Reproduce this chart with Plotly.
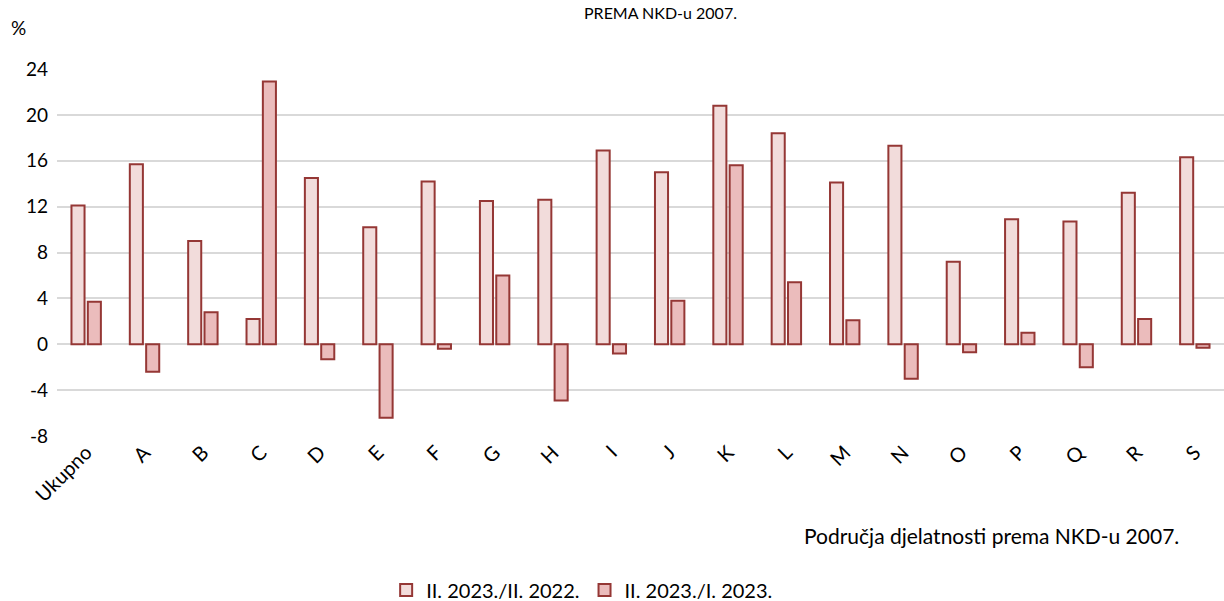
import plotly.graph_objects as go

categories = ["Ukupno", "A", "B", "C", "D", "E", "F", "G", "H", "I", "J",
              "K", "L", "M", "N", "O", "P", "Q", "R", "S"]
series1_name = "II. 2023./II. 2022."
series1 = [12.1, 15.7, 9.0, 2.2, 14.5, 10.2, 14.2, 12.5, 12.6, 16.9, 15.0,
           20.8, 18.4, 14.1, 17.3, 7.2, 10.9, 10.7, 13.2, 16.3]
series2_name = "II. 2023./I. 2023."
series2 = [3.7, -2.4, 2.8, 22.9, -1.3, -6.4, -0.4, 6.0, -4.9, -0.8, 3.8,
           15.6, 5.4, 2.1, -3.0, -0.7, 1.0, -2.0, 2.2, -0.3]
y_ticks = [-8, -4, 0, 4, 8, 12, 16, 20, 24]
y_tick_labels = ["-8", "-4", "0", "4", "8", "12", "16", "20", "24"]

FONT = "Lato"
edge = "#953735"

fig = go.Figure()
fig.add_trace(go.Bar(x=categories, y=series1, name=series1_name,
                     marker=dict(color="#F2DCDB", line=dict(color=edge, width=2))))
fig.add_trace(go.Bar(x=categories, y=series2, name=series2_name,
                     marker=dict(color="#EBBCBC", line=dict(color=edge, width=2))))

fig.update_layout(
    width=1224, height=601,
    margin=dict(l=57, r=0, t=69, b=165, autoexpand=False),
    paper_bgcolor="white", plot_bgcolor="white",
    barmode="group", bargap=0.44, bargroupgap=0.2,
    font=dict(family=FONT, size=20, color="#000000"),
    showlegend=True,
    legend=dict(orientation="h", x=0.45, xanchor="center", y=-0.4196, yanchor="middle",
                font=dict(family=FONT, size=20), itemwidth=30,
                traceorder="normal"),
    xaxis=dict(tickangle=-45, showgrid=False, showline=False, ticks="",
               tickfont=dict(family=FONT, size=20)),
    yaxis=dict(range=[-8, 24], tickvals=y_ticks, ticktext=y_tick_labels,
               showgrid=True, gridcolor="#D9D9D9",
               gridwidth=1.5, zeroline=True, zerolinecolor="#D9D9D9", zerolinewidth=1.5,
               showline=False, ticks="", tickfont=dict(family=FONT, size=19),
               ticklabelstandoff=8),
    annotations=[
        dict(text="PREMA NKD-u 2007.", xref="paper", yref="paper", x=0.517, y=1.185,
             xanchor="center", yanchor="top", showarrow=False,
             font=dict(family=FONT, size=16)),
        dict(text="%", xref="paper", yref="paper", x=-0.033, y=1.114,
             xanchor="center", yanchor="middle", showarrow=False,
             font=dict(family=FONT, size=19)),
        dict(text="Područja djelatnosti prema NKD-u 2007.", xref="paper", yref="paper",
             x=0.963, y=-0.27, xanchor="right", yanchor="middle", showarrow=False,
             font=dict(family=FONT, size=21)),
    ],
)

fig.write_html("out.html", config={"displayModeBar": False},
               post_script="document.body.style.margin='0';document.body.style.overflow='hidden';")
